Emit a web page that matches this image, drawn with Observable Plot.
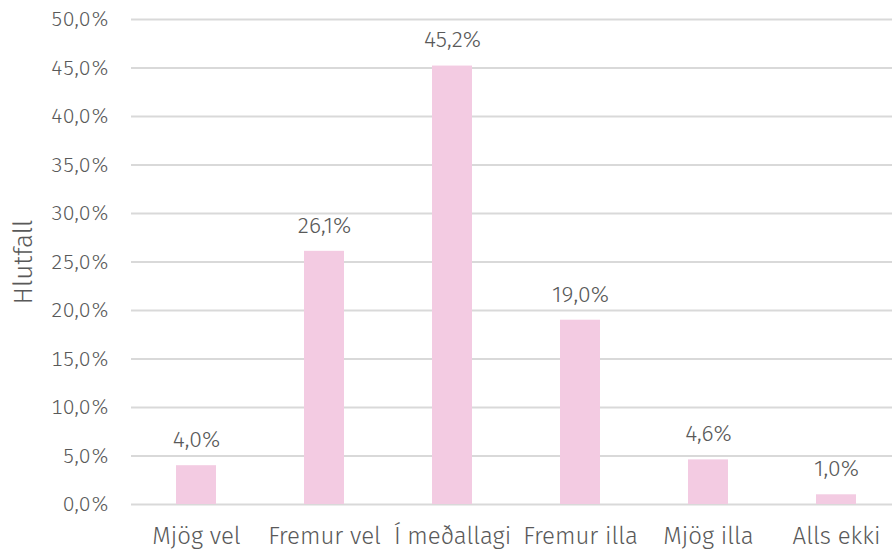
<!DOCTYPE html>
<html>
<head>
<meta charset="utf-8">
<script src="https://cdn.jsdelivr.net/npm/d3@7"></script>
<script src="https://cdn.jsdelivr.net/npm/@observablehq/plot@0.6"></script>
<style>
  html, body { margin: 0; padding: 0; background: #fff; }
  svg { display: block; }
</style>
</head>
<body>
<div id="chart"></div>
<script>
const categories = ["Mjög vel", "Fremur vel", "Í meðallagi", "Fremur illa", "Mjög illa", "Alls ekki"];
const values = [4.0, 26.1, 45.2, 19.0, 4.6, 1.0];
const yTicks = [0, 5, 10, 15, 20, 25, 30, 35, 40, 45, 50];
const yLabel = "Hlutfall";

const data = categories.map((c, i) => ({cat: c, val: values[i]}));
const fmt = v => v.toFixed(1).replace(".", ",") + "%";
const font = "'Fira Sans', 'Open Sans', 'Noto Sans', sans-serif";

const chart = Plot.plot({
  width: 892,
  height: 549,
  marginLeft: 131,
  marginRight: 0,
  marginTop: 19,
  marginBottom: 45,
  style: {fontFamily: font, fontSize: "21px", color: "#595959", background: "#fff", fontWeight: 300},
  x: {domain: categories, range: [131, 901], paddingInner: 0.69, paddingOuter: 0.345, label: null},
  y: {domain: [0, 50], label: null},
  marks: [
    Plot.ruleY(yTicks, {stroke: "#d9d9d9", strokeWidth: 2}),
    Plot.barY(data, {x: "cat", y: "val", fill: "#f3cbe2"}),
    Plot.text(data, {x: "cat", y: "val", text: d => fmt(d.val), dy: -26, fill: "#595959", fontSize: 23}),
    Plot.axisY({ticks: yTicks, tickSize: 0, tickPadding: 22, tickFormat: v => v.toFixed(1).replace(".", ",") + "%", label: null, fill: "#595959", fontSize: 21}),
    Plot.axisX({tickSize: 0, tickPadding: 22, label: null, fill: "#595959", fontSize: 24}),
    Plot.text([yLabel], {frameAnchor: "left", textAnchor: "middle", dx: -108, rotate: -90, text: d => d, fill: "#595959", fontSize: 26})
  ]
});
document.getElementById("chart").appendChild(chart);
</script>
</body>
</html>
